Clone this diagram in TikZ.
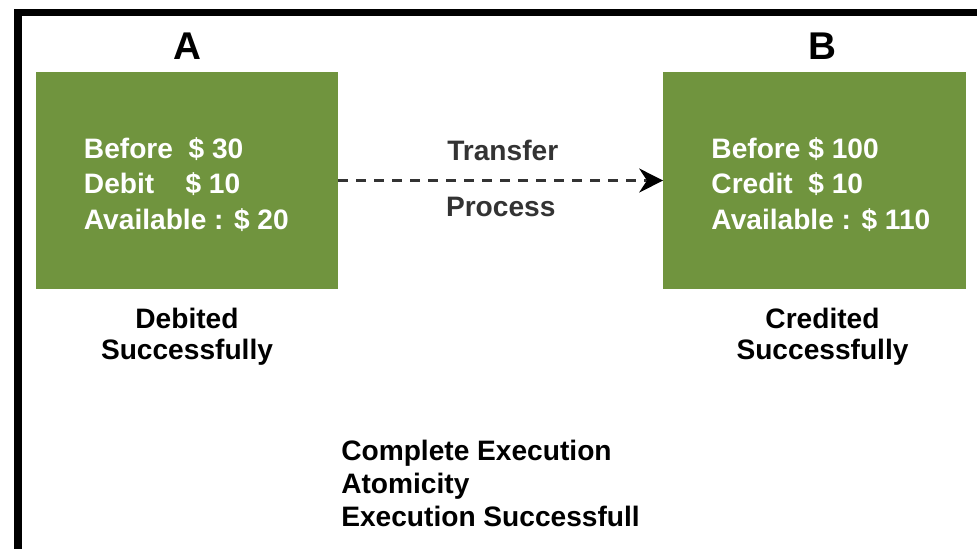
\documentclass[tikz,border=0pt]{standalone}
\usepackage{fontspec}
\setmainfont{Liberation Sans}
\usetikzlibrary{positioning,arrows.meta}
\definecolor{acctgreen}{RGB}{112,148,62}

\begin{document}
\begin{tikzpicture}[x=0.025cm,y=-0.025cm,
		account/.style={fill=acctgreen,minimum width=7.55cm,minimum height=5.425cm,inner sep=0},
		amounts/.style={text=white,font=\bfseries\fontsize{20}{25}\selectfont,align=left,inner sep=0,anchor=west},
		lbl/.style={font=\bfseries\fontsize{20}{21.5}\selectfont,align=center,inner sep=0},
		title/.style={font=\bfseries\fontsize{27.5}{30}\selectfont,inner sep=0}]

			\useasboundingbox (0,0) rectangle (977,548);
			\draw [line width=5.3pt] (995,12.3) -- (18,12.3) -- (18,560);

			\node [account] (A) at (187,180.5) {};
			\node [account] (B) at (814.5,180.5) {};

			\node [title, above=0.3cm of A] (nameA) {A};
			\node [title, above=0.3cm of B, xshift=0.2cm] (nameB) {B};

			\node [amounts] (balA) at ([xshift=1.2cm,yshift=-0.1cm]A.west) {Before~~\$ 30\\Debit~~~~\$ 10\\Available : \$ 20};
			\node [amounts] (balB) at ([xshift=1.2cm,yshift=-0.1cm]B.west) {Before \$ 100\\Credit~~\$ 10\\Available : \$ 110};

			\draw [dash pattern=on 0.25cm off 0.2cm, line width=1.6pt, black!80, -{Stealth[length=0.6cm,width=0.6cm,black]}] (A.east) -- (B.west)
				node [lbl, midway, above=0.475cm, xshift=0.05cm] (transfer) {Transfer}
				node [lbl, midway, below=0.4cm] (process) {Process};

			\node [lbl, below=0.475cm of A] (doneA) {Debited\\Successfully};
			\node [lbl, below=0.475cm of B, xshift=0.2cm] (doneB) {Credited\\Successfully};

			\node [lbl, font=\bfseries\fontsize{20}{23.5}\selectfont, align=left, anchor=west] (summary) at (341,483) {Complete Execution\\Atomicity\\Execution Successfull};
		\end{tikzpicture}
\end{document}
